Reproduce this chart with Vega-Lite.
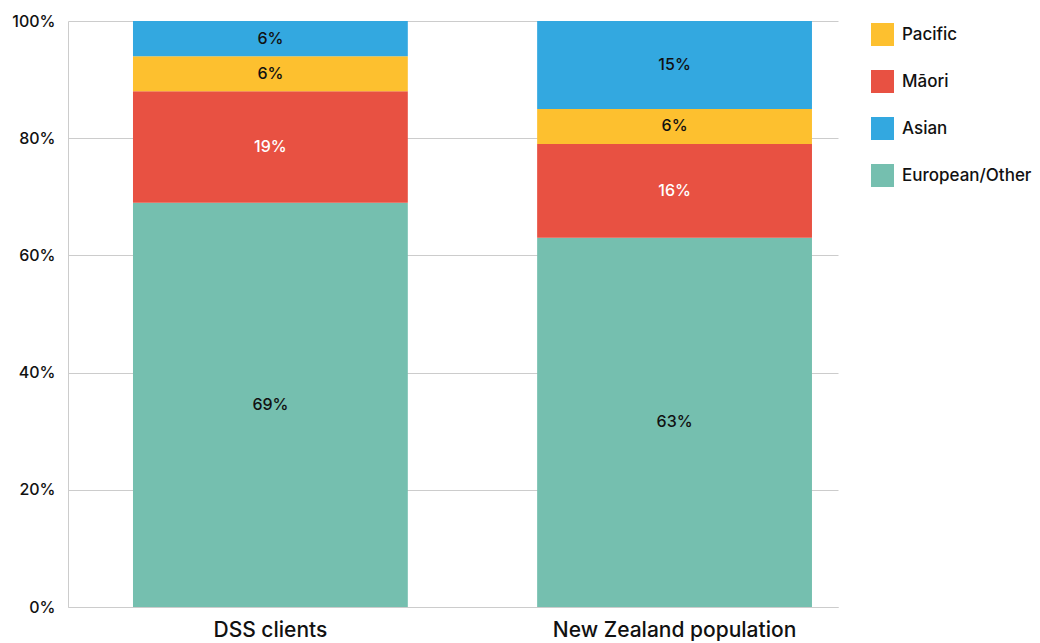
{
  "$schema": "https://vega.github.io/schema/vega-lite/v6.json",
  "width": 770,
  "height": 586,
  "autosize": {"type": "none"},
  "padding": {"left": 68, "top": 21, "right": 202, "bottom": 36},
  "background": "white",
  "config": {
    "font": "Inter",
    "view": {"stroke": null}
  },
  "data": {
    "values": [
      {"group": "DSS clients", "ethnicity": "European/Other", "value": 69, "ord": 1},
      {"group": "DSS clients", "ethnicity": "Māori", "value": 19, "ord": 2},
      {"group": "DSS clients", "ethnicity": "Pacific", "value": 6, "ord": 3},
      {"group": "DSS clients", "ethnicity": "Asian", "value": 6, "ord": 4},
      {"group": "New Zealand population", "ethnicity": "European/Other", "value": 63, "ord": 1},
      {"group": "New Zealand population", "ethnicity": "Māori", "value": 16, "ord": 2},
      {"group": "New Zealand population", "ethnicity": "Pacific", "value": 6, "ord": 3},
      {"group": "New Zealand population", "ethnicity": "Asian", "value": 15, "ord": 4}
    ]
  },
  "transform": [
    {"stack": "value", "groupby": ["group"], "sort": [{"field": "ord", "order": "ascending"}], "as": ["y0", "y1"]},
    {"calculate": "(datum.y0 + datum.y1) / 2", "as": "mid"},
    {"calculate": "datum.value + '%'", "as": "label"}
  ],
  "encoding": {
    "x": {
      "field": "group",
      "type": "nominal",
      "sort": null,
      "scale": {"paddingInner": 0.32, "paddingOuter": 0.1126, "align": 0.714},
      "axis": {
        "title": null,
        "labelAngle": 0,
        "labelFontSize": 21,
        "labelFontWeight": 500,
        "labelColor": "#111",
        "labelPadding": 12,
        "labelLimit": 0,
        "ticks": false,
        "domainColor": "#cccccc",
        "domainWidth": 1
      }
    }
  },
  "layer": [
    {
      "mark": {"type": "bar"},
      "encoding": {
        "y": {
          "field": "y0",
          "type": "quantitative",
          "scale": {"domain": [0, 100]},
          "axis": {
            "title": null,
            "values": [0, 20, 40, 60, 80, 100],
            "labelExpr": "datum.value + '%'",
            "labelFontSize": 16,
            "labelFontWeight": 500,
            "labelColor": "#111",
            "labelPadding": 13,
            "ticks": false,
            "domainColor": "#cccccc",
            "gridColor": "#cccccc",
            "grid": true
          }
        },
        "y2": {"field": "y1"},
        "color": {
          "field": "ethnicity",
          "type": "nominal",
          "scale": {
            "domain": ["Pacific", "Māori", "Asian", "European/Other"],
            "range": ["#FDC02F", "#E85142", "#33A8E0", "#75BFAF"]
          },
          "legend": {
            "title": null,
            "orient": "none",
            "legendX": 803,
            "legendY": 2,
            "symbolType": "square",
            "symbolSize": 529,
            "symbolStrokeWidth": 0,
            "labelFontSize": 17,
            "labelFontWeight": 500,
            "labelColor": "#111",
            "labelOffset": 8,
            "rowPadding": 24
          }
        }
      }
    },
    {
      "mark": {"type": "text", "fontSize": 16, "fontWeight": 500, "baseline": "middle"},
      "encoding": {
        "y": {"field": "mid", "type": "quantitative"},
        "text": {"field": "label"},
        "color": {
          "condition": {"test": "datum.ethnicity === 'Māori'", "value": "white"},
          "value": "#111"
        }
      }
    }
  ]
}
